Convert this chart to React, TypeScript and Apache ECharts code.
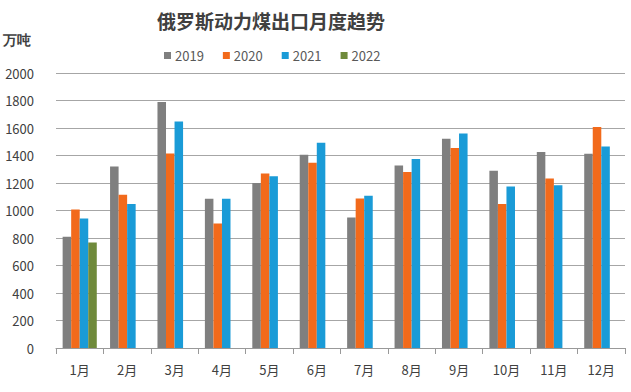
import React, { useEffect, useRef } from "react";
import * as echarts from "echarts";

const months = ["1月", "2月", "3月", "4月", "5月", "6月", "7月", "8月", "9月", "10月", "11月", "12月"];
const s2019 = [810, 1320, 1790, 1085, 1200, 1405, 950, 1328, 1522, 1290, 1425, 1412];
const s2020 = [1008, 1115, 1415, 905, 1270, 1347, 1088, 1280, 1455, 1047, 1232, 1608];
const s2021 = [942, 1047, 1648, 1085, 1250, 1492, 1108, 1374, 1560, 1175, 1183, 1465];
const s2022 = [768];
const seriesNames = ["2019", "2020", "2021", "2022"];
const colors = ["#7f7f7f", "#f26a1b", "#1a9bd7", "#6f8a3b"];

export default function App() {
  const ref = useRef<HTMLDivElement>(null);
  useEffect(() => {
    const chart = echarts.init(ref.current!, null, { renderer: "svg" });
    const data = [s2019, s2020, s2021, s2022];
    chart.setOption({
      animation: false,
      backgroundColor: "#ffffff",
      color: colors,
      textStyle: { fontFamily: "'Noto Sans CJK SC', 'Liberation Sans', sans-serif" },
      title: {
        text: "俄罗斯动力煤出口月度趋势",
        left: 266,
        textAlign: "center",
        top: 6,
        textStyle: { fontSize: 19, fontWeight: "bold", color: "#404040" },
      },
      graphic: [
        {
          type: "text",
          left: 3,
          top: 33,
          style: { text: "万吨", fontSize: 14, fontWeight: "bold", fill: "#404040", font: "bold 14px 'Noto Sans CJK SC'" },
        },
      ],
      legend: {
        top: 44,
        left: 159,
        itemWidth: 7,
        itemHeight: 7,
        itemGap: 19,
        icon: "rect",
        data: seriesNames,
        textStyle: { fontSize: 13, color: "#595959", padding: [0, 0, 0, -1] },
      },
      grid: { left: 56, right: 6, top: 73, bottom: 44 },
      xAxis: {
        type: "category",
        data: months,
        axisLine: { lineStyle: { color: "#999999" } },
        axisTick: { show: true, lineStyle: { color: "#999999" }, length: 6 },
        axisLabel: { color: "#404040", fontSize: 13, margin: 15 },
      },
      yAxis: {
        type: "value",
        min: 0,
        max: 2000,
        interval: 200,
        axisLine: { show: false },
        axisTick: { show: false },
        axisLabel: { color: "#404040", fontSize: 13, margin: 22, formatter: (v: number) => String(v) },
        splitLine: { lineStyle: { color: "#a6a6a6" } },
      },
      series: seriesNames.map((n, i) => ({
        name: n,
        type: "bar",
        data: data[i],
        barGap: "0%",
        barCategoryGap: "28%",
        itemStyle: { color: colors[i] },
      })),
    });
    return () => chart.dispose();
  }, []);
  return <div ref={ref} style={{ width: 631, height: 392, position: "absolute", left: 0, top: 0 }} />;
}
